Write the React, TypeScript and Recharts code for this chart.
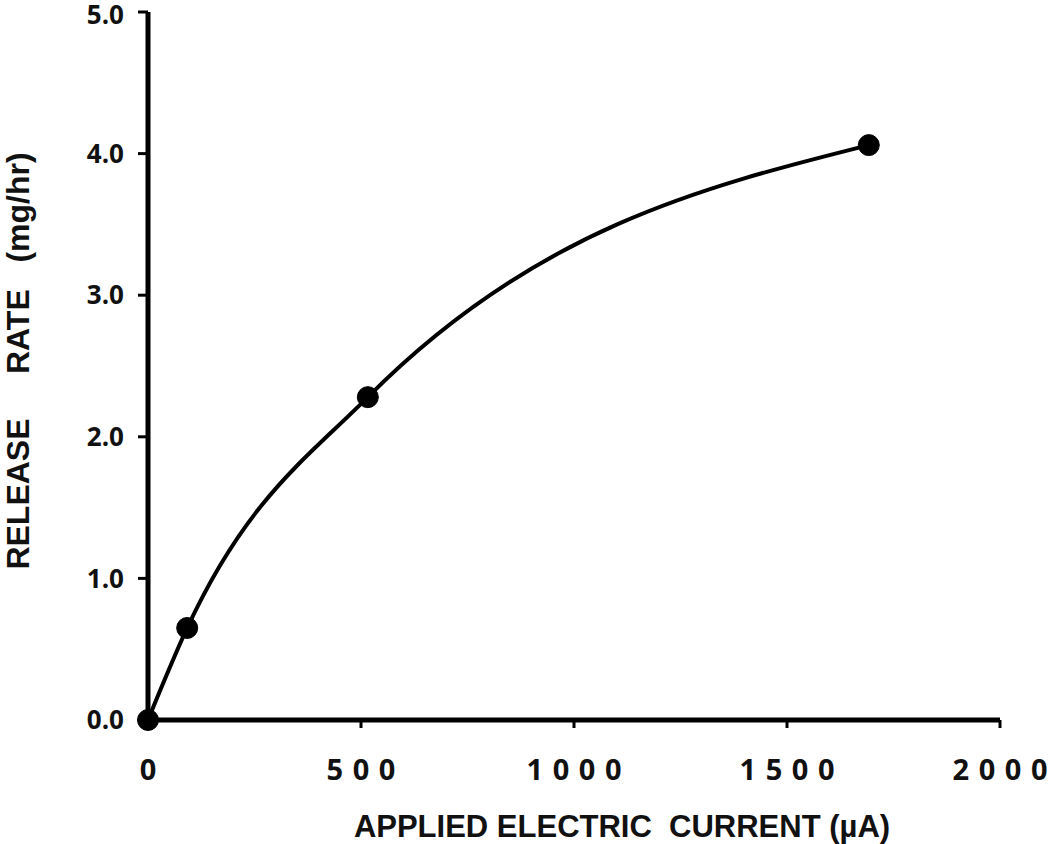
import { LineChart, Line, XAxis, YAxis, Label } from 'recharts'

const currents = [0, 92, 516, 1692]
const rates = [0, 0.65, 2.28, 4.06]
const xTicks = [0, 500, 1000, 1500, 2000]
const yTicks = [0, 1, 2, 3, 4, 5]

const data = currents.map((c, i) => ({ current: c, rate: rates[i] }))

const sp = (n: number) => '\u00a0'.repeat(n)

// digits on the x axis are spread out in the original
const XTick = (props: any) => {
  const { x, y, payload } = props
  return (
    <text
      x={x + 0.5}
      y={y + 50}
      textAnchor="middle"
      fontFamily="'Open Sans', sans-serif"
      fontWeight={700}
      fontSize={29}
      letterSpacing={1}
      fill="#111"
    >
      {String(payload.value).split('').join(' ')}
    </text>
  )
}

export default function App() {
  return (
    <div style={{ position: 'absolute', left: 0, top: 0, background: '#fff' }}>
      <LineChart
        width={1050}
        height={844}
        data={data}
        margin={{ top: 12, right: 50, bottom: 0, left: 0 }}
      >
        <XAxis
          dataKey="current"
          type="number"
          domain={[0, 2000]}
          ticks={xTicks}
          axisLine={{ stroke: '#000', strokeWidth: 5 }}
          tickLine={{ stroke: '#000', strokeWidth: 3 }}
          tickSize={8}
          tick={<XTick />}
          height={124}
        >
          <Label
            value={`APPLIED ELECTRIC${sp(2)}CURRENT (µA)`}
            position="insideBottom"
            offset={7}
            dx={48}
            style={{
              fontFamily: 'Arial, "Liberation Sans", sans-serif',
              fontWeight: 700,
              fontSize: 31,
              fill: '#111',
            }}
          />
        </XAxis>
        <YAxis
          type="number"
          domain={[0, 5]}
          ticks={yTicks}
          tickFormatter={(v: number) => v.toFixed(1)}
          axisLine={{ stroke: '#000', strokeWidth: 5 }}
          tickLine={{ stroke: '#000', strokeWidth: 3 }}
          tickSize={10}
          tickMargin={14}
          width={148}
          tick={{
            fontFamily: "'Open Sans', sans-serif",
            fontWeight: 700,
            fontSize: 26,
            fill: '#111',
          }}
        >
          <Label
            value={`RELEASE${sp(5)}RATE${sp(3)}(mg/hr)`}
            angle={-90}
            position="insideLeft"
            offset={18}
            dy={-5}
            style={{
              fontFamily: 'Arial, "Liberation Sans", sans-serif',
              fontWeight: 700,
              fontSize: 32,
              fill: '#111',
              textAnchor: 'middle',
            }}
          />
        </YAxis>
        <Line
          dataKey="rate"
          type="monotone"
          stroke="#000"
          strokeWidth={4}
          dot={{ r: 10.5, fill: '#000', stroke: '#000', strokeWidth: 1 }}
          isAnimationActive={false}
        />
      </LineChart>
    </div>
  )
}
